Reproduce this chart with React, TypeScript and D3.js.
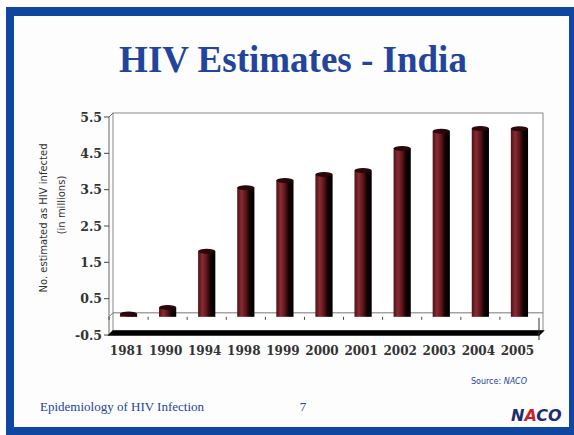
import React from 'react';
import * as d3 from 'd3';

const years = ['1981', '1990', '1994', '1998', '1999', '2000', '2001', '2002', '2003', '2004', '2005'];
const infected = [0.02, 0.2, 1.75, 3.5, 3.7, 3.86, 3.97, 4.58, 5.05, 5.13, 5.12];
const yTicks = [-0.5, 0.5, 1.5, 2.5, 3.5, 4.5, 5.5];
const yTickLabels = ['-0.5', '0.5', '1.5', '2.5', '3.5', '4.5', '5.5'];

const W = 574;
const H = 435;
const blue = '#0f47a0';
const navy = '#22449c';

export default function App() {
  const x = d3.scaleBand<string>().domain(years).range([109, 539]).padding(0);
  const y = d3.scaleLinear().domain([-0.5, 5.5]).range([335, 117]);
  const dx = 4, dy = -4; // 3d depth
  const barW = x.bandwidth() * 0.44;
  const y0 = y(0);
  const yMin = y(-0.5);
  const yMax = y(5.5);
  const [xl, xr] = x.range();

  return (
    <div style={{ position: 'fixed', left: 0, top: 0 }}>
      <svg width={W} height={H} viewBox={`0 0 ${W} ${H}`}>
        <defs>
          <linearGradient id="cyl" x1="0" x2="1" y1="0" y2="0">
            <stop offset="0" stopColor="#4a1216" />
            <stop offset="0.25" stopColor="#8a2b32" />
            <stop offset="0.5" stopColor="#5a1519" />
            <stop offset="0.72" stopColor="#120304" />
            <stop offset="1" stopColor="#000" />
          </linearGradient>
        </defs>
        <rect x={0} y={0} width={W} height={H} fill="#fff" />
        <rect x={6} y={7} width={W - 6} height={H - 7} fill={blue} />
        <rect x={14} y={16} width={555} height={411} fill="#fdfdfd" />

        <text x={293} y={72} textAnchor="middle" fontFamily="'Liberation Serif', serif" fontWeight="bold"
          fontSize={37} fill={navy}>HIV Estimates - India</text>

        {/* walls */}
        <rect x={xl + dx} y={yMax + dy} width={xr - xl} height={yMin - yMax} fill="#fff" stroke="#888" strokeWidth={1} />
        <line x1={xl} y1={yMax} x2={xl} y2={yMin} stroke="#666" />
        <line x1={xl} y1={yMax} x2={xl + dx} y2={yMax + dy} stroke="#666" />
        <line x1={xl + dx} y1={y0 + dy} x2={xr + dx} y2={y0 + dy} stroke="#777" />
        <line x1={xl} y1={y0} x2={xl + dx} y2={y0 + dy} stroke="#777" />

        {/* floor */}
        <polygon points={`${xl},${yMin} ${xr},${yMin} ${xr + dx},${yMin + dy} ${xl + dx},${yMin + dy}`}
          fill="#000" stroke="#000" strokeWidth={1.5} />
        <line x1={xr} y1={y0 + 1} x2={xr} y2={yMin + 5} stroke="#333" />

        {/* x ticks */}
        {years.map(yr => (
          <line key={yr} x1={x(yr)!} y1={y0} x2={x(yr)!} y2={y0 + 3} stroke="#444" />
        ))}

        {/* y axis ticks + labels */}
        {yTicks.map((t, i) => (
          <g key={t}>
            <line x1={xl - 5} y1={y(t)} x2={xl} y2={y(t)} stroke="#444" />
            <text x={xl - 7} y={y(t) + 4.5} textAnchor="end" fontFamily="'DejaVu Serif', serif" fontWeight="bold"
              fontSize={12.5} fill="#333">{yTickLabels[i]}</text>
          </g>
        ))}

        {/* bars */}
        {years.map((yr, i) => {
          const cx = x(yr)! + x.bandwidth() / 2;
          const top = y(infected[i]) - 2;
          const bx = cx - barW / 2;
          return (
            <g key={yr}>
              <rect x={bx} y={top} width={barW} height={Math.max(0, y0 - top)} fill="url(#cyl)" />
              <ellipse cx={cx} cy={top} rx={barW / 2} ry={2.5} fill="#2a0709" />
            </g>
          );
        })}

        {/* x labels */}
        {years.map(yr => (
          <text key={yr} x={x(yr)! + x.bandwidth() / 2 - 2} y={355} textAnchor="middle"
            fontFamily="'DejaVu Serif', serif" fontWeight="bold" fontSize={12} fill="#333">{yr}</text>
        ))}

        {/* y title */}
        <text transform="translate(47,218) rotate(-90)" textAnchor="middle" fontFamily="'DejaVu Sans', sans-serif"
          fontSize={10} fill="#333">No. estimated as HIV infected</text>
        <text transform="translate(65,205) rotate(-90)" textAnchor="middle" fontFamily="'DejaVu Sans', sans-serif"
          fontSize={10} fill="#333">(in millions)</text>

        {/* footer */}
        <text x={527} y={384} textAnchor="end" fontFamily="'DejaVu Sans', sans-serif" fontSize={8} fill={navy}>
          Source: <tspan fontStyle="italic">NACO</tspan>
        </text>
        <text x={40} y={411} fontFamily="'Liberation Serif', serif" fontSize={13} fill={navy}>Epidemiology of HIV Infection</text>
        <text x={303} y={411} textAnchor="middle" fontFamily="'Liberation Serif', serif" fontSize={13} fill={navy}>7</text>
        <text x={511} y={421} fontFamily="'DejaVu Sans', sans-serif" fontWeight="bold" fontStyle="italic" fontSize={16}
          fill="#1b2f6e">N<tspan fill="#c8202a">A</tspan>CO</text>
      </svg>
    </div>
  );
}
